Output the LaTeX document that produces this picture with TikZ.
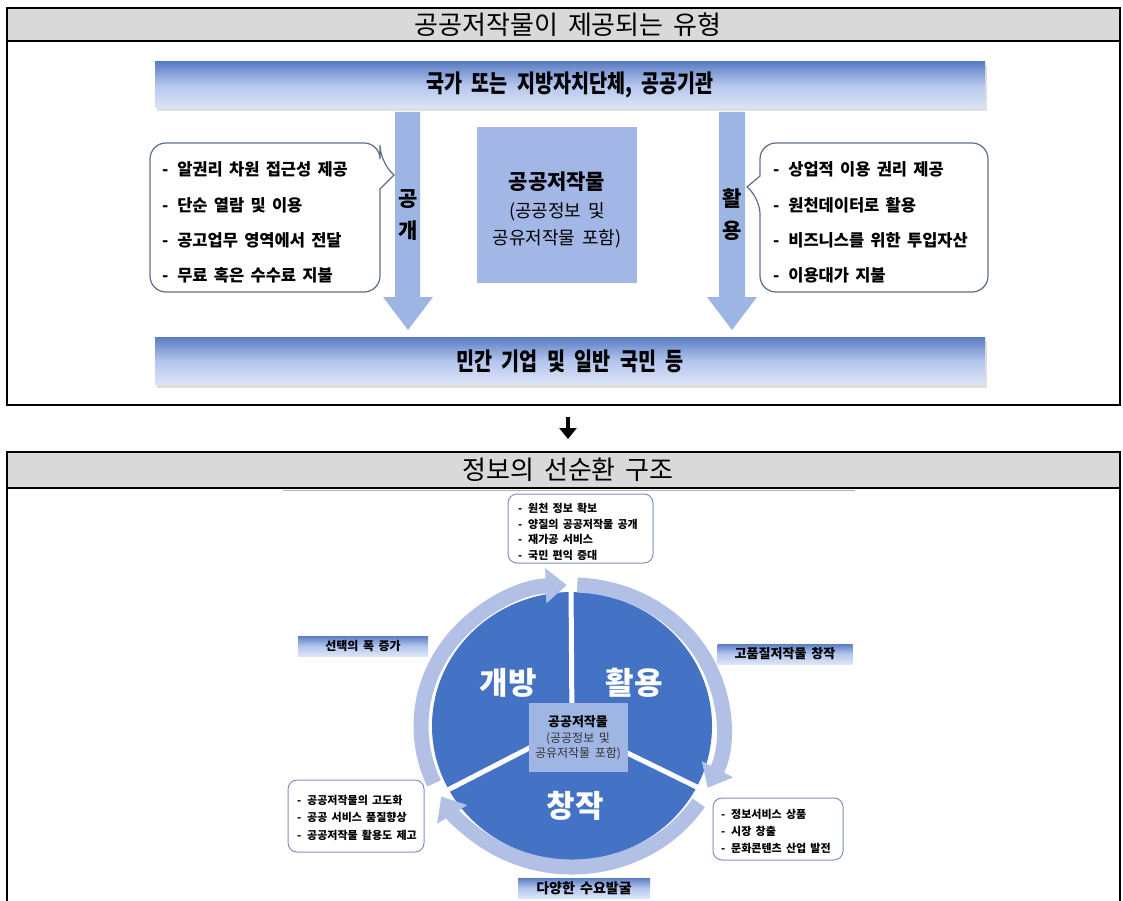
\documentclass[tikz,border=0pt]{standalone}
\usepackage{fontspec}
\setmainfont{Noto Sans CJK KR}
\newfontfamily\condfont{Noto Sans CJK KR}[FakeStretch=0.8]
\usetikzlibrary{arrows.meta,shadows}
\definecolor{hdrgray}{HTML}{D9D9D9}
\definecolor{bandtop}{HTML}{5B7DC4}
\definecolor{bandmid}{HTML}{B4C6ED}
\definecolor{bandbot}{HTML}{DCE5F7}
\definecolor{arrowblue}{HTML}{9DB5E3}
\definecolor{boxblue}{HTML}{A2B7E5}
\definecolor{calloutline}{HTML}{5E6E86}
\definecolor{diskblue}{HTML}{4472C4}
\definecolor{ringblue}{HTML}{B3C0E5}
\definecolor{smallline}{HTML}{7F92B8}
\definecolor{centerbox}{HTML}{9FB5E4}
\newcommand{\fsz}[2]{\fontsize{#1}{#2}\selectfont\spaceskip=0.38em plus 0.1em\relax}
\begin{document}
\begin{tikzpicture}[x=1pt,y=-1pt,
  every node/.style={inner sep=0pt,outer sep=0pt},
  frameline/.style={draw=black,line width=1.3pt},
  hdrfill/.style={fill=hdrgray,draw=black,line width=1.3pt},
  hdrtext/.style={font=\fsz{26}{30}},
  bigband/.style={top color=bandtop,bottom color=bandbot,middle color=bandmid,
     drop shadow={opacity=0.25,shadow xshift=2pt,shadow yshift=-3pt},
     minimum width=830pt,minimum height=46pt,
     font=\condfont\bfseries\fsz{24.5}{30}},
  smallband/.style={top color=bandtop,bottom color=bandbot,middle color=bandmid,
     minimum height=20pt,font=\bfseries\fsz{12}{14}},
  blockarrow/.style={fill=arrowblue},
  arrowlabel/.style={font=\bfseries\fsz{21}{24}},
  callout/.style={draw=calloutline,line width=1.2pt,fill=white},
  callitem/.style={anchor=west,font=\bfseries\fsz{16.5}{20}},
  smallbox/.style={draw=smallline,line width=1pt,rounded corners=9pt,fill=white},
  smallitem/.style={anchor=west,font=\bfseries\fsz{11}{13}},
  ringarrow/.style={draw=ringblue,line width=15pt,-{Triangle[width=34pt,length=21pt]}},
  divider/.style={draw=white,line width=5pt},
  sector/.style={text=white,font=\bfseries\fsz{31}{34}}
]
\useasboundingbox (0,0) rectangle (1123,901);
\fill[white] (0,0) rectangle (1123,901);

% ---------- top section ----------
\draw[frameline] (7,8) rectangle (1120,405);
\draw[hdrfill] (7,8) rectangle (1120,41);
\node[hdrtext] (title1) at (568,25) {공공저작물이 제공되는 유형};

\node[bigband] (gov) at (570,85) {국가 또는 지방자치단체, 공공기관};
\node[bigband,minimum height=47pt] (people) at (570,361) {민간 기업 및 일반 국민 등};

% block arrows
\fill[blockarrow] (395,112) -- (420,112) -- (420,297) -- (433,297) -- (408,330) -- (383,297) -- (395,297) -- cycle;
\fill[blockarrow] (719,112) -- (745,112) -- (745,297) -- (757,297) -- (732,330) -- (707,297) -- (719,297) -- cycle;
\node[arrowlabel] (open1) at (408,199) {공};
\node[arrowlabel] (open2) at (408,231) {개};
\node[arrowlabel] (use1) at (732,199) {활};
\node[arrowlabel] (use2) at (732,231) {용};

% center box
\node[fill=boxblue,minimum width=160pt,minimum height=156pt] (pub) at (557,205) {};
\node[font=\bfseries\fsz{21}{24}] (pubt) at (557,182) {공공저작물};
\node[font=\fsz{18}{21}] (pubs1) at (557,212) {(공공정보 및};
\node[font=\fsz{18}{21}] (pubs2) at (557,239) {공유저작물 포함)};

% left callout
\draw[callout] (150,220) [rounded corners=16pt] -- (150,143) -- (380,143) -- (380,161) [sharp corners] -- (394,175) -- (380,189) [rounded corners=16pt] -- (380,292) -- (150,292) -- cycle;
\node[callitem] (l1) at (162,169) {-\hspace{9pt}알권리 차원 접근성 제공};
\node[callitem] (l2) at (162,205) {-\hspace{9pt}단순 열람 및 이용};
\node[callitem] (l3) at (162,240) {-\hspace{9pt}공고업무 영역에서 전달};
\node[callitem] (l4) at (162,275) {-\hspace{9pt}무료 혹은 수수료 지불};

% right callout
\draw[callout] (988,220) [rounded corners=16pt] -- (988,292) -- (760,292) -- (760,198) [sharp corners] -- (747,187) -- (760,176) [rounded corners=16pt] -- (760,143) -- (988,143) -- cycle;
\node[callitem] (r1) at (773,169) {-\hspace{9pt}상업적 이용 권리 제공};
\node[callitem] (r2) at (773,205) {-\hspace{9pt}원천데이터로 활용};
\node[callitem] (r3) at (773,240) {-\hspace{9pt}비즈니스를 위한 투입자산};
\node[callitem] (r4) at (773,275) {-\hspace{9pt}이용대가 지불};

% arrow between sections
\coordinate (da1) at (568,417);
\coordinate (da2) at (568,439);
\draw[line width=4.5pt,-{Triangle[width=17pt,length=11pt]}] (da1) -- (da2);

% ---------- bottom section ----------
\draw[frameline] (7,905) -- (7,452) -- (1120,452) -- (1120,905);
\draw[hdrfill] (7,452) rectangle (1120,488);
\node[hdrtext] (title2) at (568,470) {정보의 선순환 구조};
\draw[gray!60,line width=1pt] (283,490) -- (855,490);

% side bands (behind ring)
\node[smallband,minimum width=130pt] (choice) at (363,646) {선택의 폭 증가};
\node[smallband,minimum width=135pt,font=\bfseries\fsz{13}{15}] (quality) at (785,654) {고품질저작물 창작};
\node[smallband,minimum width=132pt,font=\bfseries\fsz{14}{16}] (demand) at (584,888) {다양한 수요발굴};

% disk and ring
\coordinate (C) at (572,726);
\fill[diskblue] (C) ellipse [x radius=140, y radius=134];
\draw[ringarrow] (C) ++(156:151 and 141) arc[start angle=156, end angle=268, x radius=151, y radius=141];
\draw[ringarrow] (C) ++(272:151 and 141) arc[start angle=272, end angle=386, x radius=151, y radius=141];
\draw[ringarrow] (C) ++(33:151 and 141) arc[start angle=33, end angle=150, x radius=151, y radius=141];

% dividers
\coordinate (dtop) at (571,583);
\coordinate (dll) at (436,796);
\coordinate (dlr) at (703,790);
\draw[divider] (C) -- (dtop);
\draw[divider] (C) -- (dll);
\draw[divider] (C) -- (dlr);

\node[sector] (s1) at (508,683) {개방};
\node[sector] (s2) at (634,683) {활용};
\node[sector] (s3) at (575,806) {창작};

% center box
\node[fill=centerbox,minimum width=99pt,minimum height=69pt] (core) at (578,737) {};
\node[font=\bfseries\fsz{13}{15}] (coret) at (578,722) {공공저작물};
\node[font=\fsz{12}{14},text=black!80] (cores1) at (578,739) {(공공정보 및};
\node[font=\fsz{12}{14},text=black!80] (cores2) at (578,754) {공유저작물 포함)};

% small boxes
\draw[smallbox] (508,494) rectangle (653,563);
\node[smallitem] (t1) at (518,508) {-\hspace{6pt}원천 정보 확보};
\node[smallitem] (t2) at (518,524) {-\hspace{6pt}양질의 공공저작물 공개};
\node[smallitem] (t3) at (518,539) {-\hspace{6pt}재가공 서비스};
\node[smallitem] (t4) at (518,555) {-\hspace{6pt}국민 편익 증대};

\draw[smallbox] (288,780) rectangle (424,852);
\node[smallitem] (b1) at (297,800) {-\hspace{6pt}공공저작물의 고도화};
\node[smallitem] (b2) at (297,817) {-\hspace{6pt}공공 서비스 품질향상};
\node[smallitem] (b3) at (297,835) {-\hspace{6pt}공공저작물 활용도 제고};

\draw[smallbox] (713,798) rectangle (843,860);
\node[smallitem] (c1) at (721,814) {-\hspace{6pt}정보서비스 상품};
\node[smallitem] (c2) at (721,831) {-\hspace{6pt}시장 창출};
\node[smallitem] (c3) at (721,848) {-\hspace{6pt}문화콘텐츠 산업 발전};
\end{tikzpicture}
\end{document}
